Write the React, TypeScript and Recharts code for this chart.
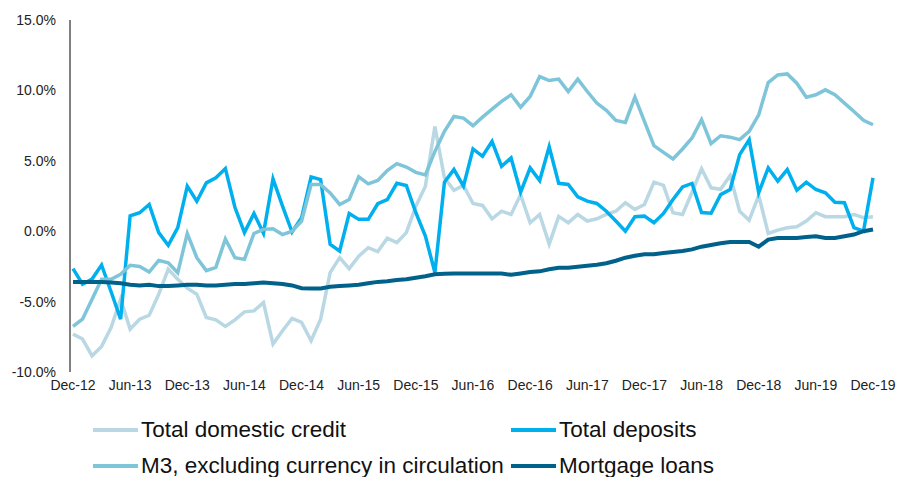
import React from "react";
import { LineChart, Line, XAxis, YAxis, Legend } from "recharts";

const MONTH_NAMES = ["Jan", "Feb", "Mar", "Apr", "May", "Jun", "Jul", "Aug", "Sep", "Oct", "Nov", "Dec"];

// monthly, Dec-12 .. Dec-19
const months = Array.from({ length: 85 }, (_, i) => {
  const m = (11 + i) % 12;
  const y = 12 + Math.floor((11 + i) / 12);
  return `${MONTH_NAMES[m]}-${y}`;
});

const totalDomesticCredit = [
  -7.31, -7.66, -8.85, -8.18, -6.84, -4.83, -6.95, -6.25, -5.97, -4.48, -2.7, -3.41, -4.05, -4.48, -6.13, -6.3, -6.76, -6.3,
  -5.73, -5.66, -5.07, -8.02, -7.07, -6.2, -6.48, -7.78, -6.25, -2.94, -1.88, -2.66, -1.77, -1.17, -1.45, -0.5, -0.81,
  -0.1, 1.78, 3.2, 7.44, 3.79, 2.91, 3.25, 1.97, 1.83, 0.88, 1.42, 1.19, 2.6, 0.6, 1.19, -0.92, 1.05,
  0.6, 1.19, 0.72, 0.88, 1.19, 1.42, 2.02, 1.55, 1.9, 3.48, 3.25, 1.31, 1.19, 2.77, 4.43, 3.08, 2.98,
  3.95, 1.42, 0.78, 2.54, -0.16, 0.08, 0.25, 0.32, 0.72, 1.31, 1.03, 1.03, 1.03, 1.19, 0.96, 1.03,
];

const totalDeposits = [
  -2.66, -3.77, -3.4, -2.4, -4.3, -6.25, 1.1, 1.31, 1.9, -0.1, -1.0, 0.25, 3.2, 2.13, 3.43, 3.79, 4.45, 1.7,
  -0.1, 1.26, -0.15, 3.72, 1.78, -0.06, 0.95, 3.86, 3.67, -0.93, -1.41, 1.26, 0.84, 0.84, 1.95, 2.25, 3.4,
  3.25, 1.31, -0.35, -2.94, 3.48, 4.38, 3.2, 5.84, 5.32, 6.38, 4.61, 5.2, 2.77, 4.5, 3.6, 6.0, 3.4,
  3.32, 2.44, 2.13, 1.97, 1.42, 0.72, 0.0, 1.03, 1.07, 0.6, 1.26, 2.25, 3.15, 3.39, 1.33, 1.28, 2.6,
  2.96, 5.44, 6.5, 2.73, 4.5, 3.55, 4.38, 2.91, 3.48, 2.96, 2.73, 2.06, 2.02, 0.25, 0.0, 3.79,
];

const m3ExCurrency = [
  -6.76, -6.25, -4.83, -3.41, -3.41, -3.06, -2.42, -2.5, -2.9, -2.07, -2.24, -2.95, -0.16, -1.88, -2.8, -2.57, -0.55, -1.88,
  -2.0, -0.16, 0.13, 0.17, -0.24, 0.0, 0.72, 3.31, 3.31, 2.72, 1.9, 2.25, 3.86, 3.36, 3.6, 4.3, 4.8,
  4.56, 4.18, 4.0, 5.67, 7.09, 8.15, 8.03, 7.49, 8.1, 8.67, 9.22, 9.69, 8.81, 9.57, 10.98, 10.7, 10.8,
  9.92, 10.8, 9.92, 9.1, 8.58, 7.87, 7.73, 9.52, 7.8, 6.08, 5.6, 5.13, 5.84, 6.62, 7.92, 6.22, 6.78,
  6.68, 6.5, 7.09, 8.27, 10.56, 11.1, 11.17, 10.51, 9.52, 9.69, 10.04, 9.69, 9.1, 8.5, 7.87, 7.56,
];

const mortgageLoans = [
  -3.6, -3.6, -3.6, -3.6, -3.65, -3.7, -3.8, -3.85, -3.8, -3.9, -3.9, -3.85, -3.8, -3.8, -3.85, -3.85, -3.8, -3.75,
  -3.75, -3.7, -3.65, -3.7, -3.75, -3.85, -4.05, -4.07, -4.07, -3.95, -3.9, -3.85, -3.8, -3.7, -3.6, -3.55, -3.46,
  -3.41, -3.3, -3.2, -3.06, -3.03, -3.0, -3.0, -3.0, -3.0, -3.0, -3.0, -3.1, -3.0, -2.9, -2.85, -2.7, -2.6,
  -2.59, -2.52, -2.45, -2.38, -2.28, -2.1, -1.88, -1.75, -1.64, -1.64, -1.55, -1.48, -1.4, -1.29, -1.1, -0.98, -0.86,
  -0.77, -0.77, -0.77, -1.1, -0.6, -0.48, -0.48, -0.48, -0.42, -0.36, -0.48, -0.48, -0.36, -0.24, 0.0, 0.12,
];

const yTicks = [-10, -5, 0, 5, 10, 15];

const series = [
  { key: "credit", name: "Total domestic credit", color: "#B9D8E4", values: totalDomesticCredit },
  { key: "deposits", name: "Total deposits", color: "#00B0EE", values: totalDeposits },
  { key: "m3", name: "M3, excluding currency in circulation", color: "#7EC5D9", values: m3ExCurrency },
  { key: "mortgage", name: "Mortgage loans", color: "#00628A", values: mortgageLoans },
];

const data = months.map((month, i) => {
  const row: Record<string, string | number> = { month };
  series.forEach((s) => {
    row[s.key] = s.values[i];
  });
  return row;
});

const FONT = "'Liberation Sans', Arial, sans-serif";

const renderLegend = () => (
  <div style={{ position: "relative", height: 70, fontFamily: FONT, fontSize: 22.5, color: "#111" }}>
    {series.map((s, k) => (
      <div
        key={s.key}
        style={{
          position: "absolute",
          left: k % 2 === 0 ? 85 : 503,
          top: k < 2 ? 14 : 50,
          height: 28,
          display: "flex",
          alignItems: "center",
          whiteSpace: "nowrap",
        }}
      >
        <span style={{ display: "inline-block", width: 45, height: 4, background: s.color }} />
        <span style={{ marginLeft: 3 }}>{s.name}</span>
      </div>
    ))}
  </div>
);

export default function App() {
  return (
    <div style={{ position: "fixed", top: 0, left: 0, width: 898, height: 477, overflow: "hidden", background: "#fff" }}>
      <LineChart
        width={898}
        height={477}
        data={data}
        margin={{ top: 20, right: 25, bottom: 5, left: 8 }}
      >
        <XAxis
          dataKey="month"
          interval={5}
          axisLine={false}
          tickLine={false}
          padding={{ left: 3, right: 0 }}
          tick={{ fontSize: 14, fill: "#222", fontFamily: FONT }}
        />
        <YAxis
          width={62}
          domain={[-10, 15]}
          ticks={yTicks}
          tickFormatter={(v: number) => `${v.toFixed(1)}%`}
          axisLine={{ stroke: "#000" }}
          tickLine={false}
          tickMargin={8}
          tick={{ fontSize: 14, fill: "#222", fontFamily: FONT }}
        />
        <Legend verticalAlign="bottom" content={renderLegend} />
        {series.map((s) => (
          <Line
            key={s.key}
            dataKey={s.key}
            name={s.name}
            stroke={s.color}
            strokeWidth={s.key === "mortgage" ? 4 : 3.5}
            dot={false}
            type="linear"
            isAnimationActive={false}
          />
        ))}
      </LineChart>
    </div>
  );
}
